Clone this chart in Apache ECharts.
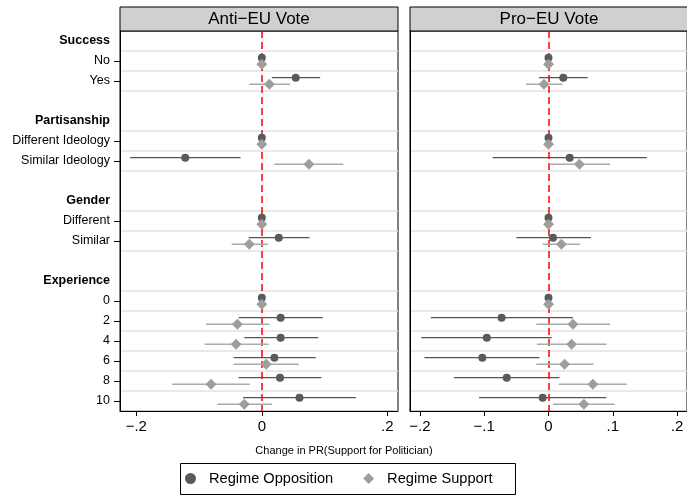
<!DOCTYPE html>
<html><head><meta charset="utf-8">
<script src="https://cdn.jsdelivr.net/npm/echarts@6/dist/echarts.min.js"></script>
<style>html,body{margin:0;padding:0;background:#fff}#c{width:687px;height:498px}</style>
</head><body><div id="c"></div><script>
const categories = ['Success','No','Yes',' ','Partisanship','Different Ideology','Similar Ideology','  ','Gender','Different','Similar','   ','Experience','0','2','4','6','8','10'];
const headers = ['Success','Partisanship','Gender','Experience'];
const panelTitles = ['Anti\u2212EU Vote','Pro\u2212EU Vote'];
const seriesNames = ['Regime Opposition','Regime Support'];
const axisTitle = 'Change in PR(Support for Politician)';
const leftTicks = [-0.2, 0, 0.2];
const rightTicks = [-0.2, -0.1, 0, 0.1, 0.2];
const gridRows = [1,2,3,5,6,7,9,10,11,13,14,15,16,17,18];

// Anti-EU Vote panel
const antiOppEst = [null,0,0.054,null,null,0,-0.122,null,null,0,0.027,null,null,0,0.030,0.030,0.020,0.029,0.060];
const antiOppLo  = [null,0,0.016,null,null,0,-0.210,null,null,0,-0.021,null,null,0,-0.037,-0.028,-0.045,-0.037,-0.030];
const antiOppHi  = [null,0,0.093,null,null,0,-0.034,null,null,0,0.076,null,null,0,0.097,0.090,0.086,0.095,0.150];
const antiSupEst = [null,0,0.012,null,null,0,0.075,null,null,0,-0.020,null,null,0,-0.039,-0.041,0.007,-0.081,-0.028];
const antiSupLo  = [null,0,-0.020,null,null,0,0.020,null,null,0,-0.048,null,null,0,-0.089,-0.091,-0.045,-0.143,-0.071];
const antiSupHi  = [null,0,0.045,null,null,0,0.130,null,null,0,0.010,null,null,0,0.012,0.011,0.059,-0.019,0.016];
// Pro-EU Vote panel
const proOppEst = [null,0,0.023,null,null,0,0.033,null,null,0,0.007,null,null,0,-0.073,-0.096,-0.103,-0.065,-0.009];
const proOppLo  = [null,0,-0.015,null,null,0,-0.087,null,null,0,-0.050,null,null,0,-0.183,-0.198,-0.193,-0.147,-0.108];
const proOppHi  = [null,0,0.061,null,null,0,0.153,null,null,0,0.066,null,null,0,0.038,0.005,-0.014,0.017,0.090];
const proSupEst = [null,0,-0.007,null,null,0,0.048,null,null,0,0.020,null,null,0,0.038,0.036,0.025,0.069,0.055];
const proSupLo  = [null,0,-0.035,null,null,0,0.001,null,null,0,-0.009,null,null,0,-0.019,-0.018,-0.019,0.016,0.007];
const proSupHi  = [null,0,0.022,null,null,0,0.096,null,null,0,0.049,null,null,0,0.096,0.090,0.070,0.122,0.103];

const FONT = '"Liberation Sans", Arial, Helvetica, sans-serif';
const OPP = '#5a5a5a', SUP = '#9e9e9e', OPP_LINE = '#555555', SUP_LINE = '#aaaaaa';

function fmt(v){ if (Math.abs(v) < 1e-9) return '0'; const s = Math.abs(v).toFixed(1).replace(/^0/, ''); return (v < 0 ? '\u2212' : '') + s; }
function ciData(lo, hi){ const d = []; lo.forEach((l, i) => { if (l != null) d.push([l, hi[i], i]); }); return d; }
function ptData(est){ const d = []; est.forEach((v, i) => { if (v != null) d.push([v, i]); }); return d; }
function ciSeries(lo, hi, gi, color, off, w){
  return { type:'custom', name:'ci'+gi+color, xAxisIndex:gi, yAxisIndex:gi, data:ciData(lo, hi), encode:{x:[0,1], y:2}, silent:true, z:3,
    renderItem:(p, api) => { const a = api.coord([api.value(0), api.value(2)]); const b = api.coord([api.value(1), api.value(2)]);
      return { type:'line', shape:{x1:a[0], y1:a[1]+off, x2:b[0], y2:b[1]+off}, style:{stroke:color, lineWidth:w} }; } };
}
function ptSeries(est, gi, name, symbol, size, color, off, withLine){
  const s = { type:'scatter', name:name, xAxisIndex:gi, yAxisIndex:gi, data:ptData(est), symbol:symbol, symbolSize:size, symbolOffset:[0, off], itemStyle:{color:color, opacity:1}, z:4, silent:true };
  if (withLine) s.markLine = { silent:true, symbol:'none', z:2, label:{show:false}, lineStyle:{color:'#ff0000', type:[7,4], width:1.5}, data:[{xAxis:0}] };
  return s;
}
function xAxis(gi, min, max, ticks){
  return { gridIndex:gi, type:'value', min:min, max:max, splitLine:{show:false},
    axisLine:{show:true, onZero:false, lineStyle:{color:'#000', width:1}},
    axisTick:{show:true, length:5, customValues:ticks, lineStyle:{color:'#000'}},
    axisLabel:{customValues:ticks, formatter:fmt, fontSize:15, color:'#000', margin:8, fontFamily:FONT} };
}
function yAxis(gi, showLabels){
  return { gridIndex:gi, type:'category', data:categories, inverse:true,
    axisLine:{show:true, onZero:false, lineStyle:{color:'#000', width:1}},
    axisTick:{show:showLabels, length:6, alignWithLabel:true, interval:(i, v) => !headers.includes(v) && v.trim() !== '', lineStyle:{color:'#000'}},
    axisLabel:{show:showLabels, interval:0, margin:10, fontSize:12.5, color:'#000', fontFamily:FONT,
      formatter:(v) => headers.includes(v) ? '{b|' + v + '}' : v,
      rich:{b:{fontWeight:'bold', fontSize:12.5, color:'#000', fontFamily:FONT}}},
    splitLine:{show:true, interval:(i) => gridRows.includes(i), lineStyle:{color:'#e2e2e2', width:1.5}} };
}

const chart = echarts.init(document.getElementById('c'), null, {renderer:'canvas'});
chart.setOption({
  animation:false,
  backgroundColor:'#fff',
  grid:[
    {left:120, top:31, width:278, height:380, show:true, borderColor:'#000', borderWidth:1, backgroundColor:'#fff'},
    {left:410, top:31, width:278, height:380, show:true, borderColor:'#000', borderWidth:1, backgroundColor:'#fff'}
  ],
  xAxis:[ xAxis(0, -0.226, 0.217, leftTicks), xAxis(1, -0.2155, 0.2155, rightTicks) ],
  yAxis:[ yAxis(0, true), yAxis(1, false) ],
  legend:{ data:[{name:seriesNames[0], icon:'circle'}, {name:seriesNames[1], icon:'diamond'}], left:185, top:471, padding:0,
    itemWidth:11, itemHeight:11, itemGap:30, selectedMode:false,
    textStyle:{fontSize:14.6, color:'#000', fontFamily:FONT, padding:[0,0,0,8]} },
  graphic:[
    {type:'rect', shape:{x:120, y:7, width:278, height:24}, style:{fill:'#d0d0d0', stroke:'#000', lineWidth:1}},
    {type:'text', x:259, y:19.5, style:{text:panelTitles[0], font:'17px ' + FONT, fill:'#000', textAlign:'center', textVerticalAlign:'middle', align:'center', verticalAlign:'middle'}},
    {type:'rect', shape:{x:410, y:7, width:278, height:24}, style:{fill:'#d0d0d0', stroke:'#000', lineWidth:1}},
    {type:'text', x:549, y:19.5, style:{text:panelTitles[1], font:'17px ' + FONT, fill:'#000', textAlign:'center', textVerticalAlign:'middle', align:'center', verticalAlign:'middle'}},
    {type:'text', x:344, y:451, style:{text:axisTitle, font:'11px ' + FONT, fill:'#000', textAlign:'center', textVerticalAlign:'middle', align:'center', verticalAlign:'middle'}},
    {type:'rect', shape:{x:180.5, y:463.5, width:335, height:31}, style:{fill:'none', stroke:'#000', lineWidth:1}}
  ],
  series:[
    ciSeries(antiOppLo, antiOppHi, 0, OPP_LINE, -3.3, 1.2),
    ptSeries(antiOppEst, 0, seriesNames[0], 'circle', 8, OPP, -3.3, true),
    ciSeries(antiSupLo, antiSupHi, 0, SUP_LINE, 3.3, 1.5),
    ptSeries(antiSupEst, 0, seriesNames[1], 'diamond', [11,11], SUP, 3.3, false),
    ciSeries(proOppLo, proOppHi, 1, OPP_LINE, -3.3, 1.2),
    ptSeries(proOppEst, 1, seriesNames[0], 'circle', 8, OPP, -3.3, true),
    ciSeries(proSupLo, proSupHi, 1, SUP_LINE, 3.3, 1.5),
    ptSeries(proSupEst, 1, seriesNames[1], 'diamond', [11,11], SUP, 3.3, false)
  ]
});
</script></body></html>
